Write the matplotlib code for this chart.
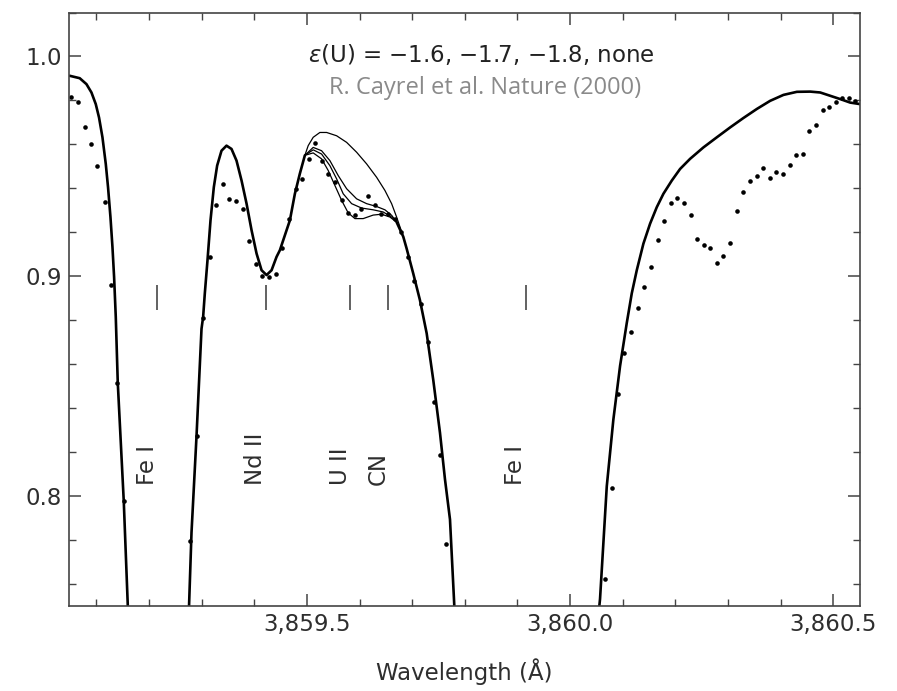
import numpy as np
import matplotlib as mpl
mpl.use('Agg')
import matplotlib.pyplot as plt
from matplotlib.ticker import MultipleLocator, FuncFormatter

# model spectrum (thick line), pieces outside the U II blend
wl_left = [3859.0494, 3859.0684, 3859.0812, 3859.0907, 3859.0989, 3859.1051, 3859.1116,
           3859.1179, 3859.1222, 3859.1268, 3859.1306, 3859.1337, 3859.1369, 3859.1407,
           3859.1521, 3859.1597, 3859.1635]
fl_left = [0.9912, 0.9901, 0.9874, 0.9836, 0.9783, 0.9722, 0.9632,
           0.9511, 0.9405, 0.9269, 0.9133, 0.8997, 0.8815, 0.8515,
           0.7975, 0.7503, 0.7300]

wl_mid = [3859.2747, 3859.2762, 3859.2808, 3859.2903, 3859.2998, 3859.3029, 3859.3061,
          3859.3112, 3859.3169, 3859.3232, 3859.3295, 3859.3378, 3859.3473, 3859.3568,
          3859.3663, 3859.3759, 3859.3854, 3859.3949, 3859.4044, 3859.4139, 3859.4234,
          3859.4329, 3859.4424, 3859.4487, 3859.4614, 3859.4677, 3859.4772, 3859.4867,
          3859.4962]
fl_mid = [0.7300, 0.7505, 0.7833, 0.8271, 0.8760, 0.8815, 0.8922,
          0.9073, 0.9254, 0.9405, 0.9503, 0.9571, 0.9594, 0.9579,
          0.9526, 0.9435, 0.9330, 0.9209, 0.9103, 0.9027, 0.9005,
          0.9027, 0.9088, 0.9118, 0.9209, 0.9254, 0.9375, 0.9467,
          0.9550]

wl_fall = [3859.6705, 3859.6831, 3859.6895, 3859.7021, 3859.7148, 3859.7276, 3859.7401,
           3859.7529, 3859.7624, 3859.7719, 3859.7800, 3859.7830]
fl_fall = [0.9246, 0.9180, 0.9126, 0.9012, 0.8891, 0.8740, 0.8528,
           0.8287, 0.8075, 0.7893, 0.7505, 0.7300]

wl_right = [3860.0513, 3860.0570, 3860.0698, 3860.0823, 3860.0951, 3860.1078, 3860.1173,
            3860.1268, 3860.1394, 3860.1521, 3860.1648, 3860.1774, 3860.1933, 3860.2091,
            3860.2281, 3860.2534, 3860.2789, 3860.3042, 3860.3295, 3860.3549, 3860.3802,
            3860.4055, 3860.4310, 3860.4563, 3860.4753, 3860.4943, 3860.5133, 3860.5323,
            3860.5513]
fl_right = [0.7395, 0.7531, 0.8044, 0.8347, 0.8592, 0.8787, 0.8922,
            0.9027, 0.9148, 0.9239, 0.9314, 0.9375, 0.9435, 0.9488,
            0.9534, 0.9586, 0.9632, 0.9677, 0.9720, 0.9761, 0.9798,
            0.9825, 0.9839, 0.9840, 0.9836, 0.9821, 0.9806, 0.9790,
            0.9783]

# U II blend, four abundances (thin lines)
wl_none = [3859.4962, 3859.5025, 3859.5120, 3859.5247, 3859.5375, 3859.5565, 3859.5755,
           3859.5945, 3859.6135, 3859.6325, 3859.6483, 3859.6610, 3859.6705, 3859.6831]
fl_none = [0.9550, 0.9594, 0.9632, 0.9654, 0.9654, 0.9639, 0.9609,
           0.9564, 0.9511, 0.9450, 0.9390, 0.9330, 0.9269, 0.9180]

wl_u16 = [3859.4962, 3859.5120, 3859.5279, 3859.5405, 3859.5532, 3859.5660, 3859.5785,
          3859.5913, 3859.6070, 3859.6260, 3859.6420, 3859.6578, 3859.6705]
fl_u16 = [0.9550, 0.9561, 0.9534, 0.9481, 0.9413, 0.9345, 0.9288,
          0.9262, 0.9262, 0.9278, 0.9282, 0.9269, 0.9246]
wl_u17 = [3859.4962, 3859.5120, 3859.5279, 3859.5437, 3859.5565, 3859.5690, 3859.5850,
          3859.6040, 3859.6260, 3859.6451, 3859.6610, 3859.6705]
fl_u17 = [0.9550, 0.9575, 0.9556, 0.9503, 0.9443, 0.9375, 0.9330,
          0.9310, 0.9302, 0.9292, 0.9269, 0.9246]
wl_u18 = [3859.4962, 3859.5120, 3859.5279, 3859.5437, 3859.5595, 3859.5755, 3859.5945,
          3859.6135, 3859.6325, 3859.6483, 3859.6610, 3859.6705]
fl_u18 = [0.9550, 0.9586, 0.9571, 0.9526, 0.9458, 0.9398, 0.9352,
          0.9330, 0.9317, 0.9302, 0.9277, 0.9246]

# observed spectrum (dots)
obs_wl = [3859.0513, 3859.0652, 3859.0779, 3859.0894, 3859.1021, 3859.1160, 3859.1287,
          3859.1394, 3859.1521,
          3859.2776, 3859.2903, 3859.3029, 3859.3156, 3859.3270, 3859.3397, 3859.3525,
          3859.3650, 3859.3778, 3859.3903, 3859.4030, 3859.4150, 3859.4278, 3859.4405,
          3859.4530, 3859.4652, 3859.4785, 3859.4905, 3859.5032, 3859.5158, 3859.5279,
          3859.5405, 3859.5532, 3859.5660, 3859.5785, 3859.5907, 3859.6032, 3859.6160,
          3859.6287, 3859.6413, 3859.6540, 3859.6667, 3859.6793, 3859.6920, 3859.7040,
          3859.7162, 3859.7295, 3859.7414, 3859.7534, 3859.7643,
          3860.0665, 3860.0793, 3860.0918, 3860.1032, 3860.1160, 3860.1287, 3860.1413,
          3860.1534, 3860.1667, 3860.1793, 3860.1920, 3860.2040, 3860.2167, 3860.2295,
          3860.2414, 3860.2542, 3860.2667, 3860.2789, 3860.2914, 3860.3042, 3860.3169,
          3860.3293, 3860.3422, 3860.3549, 3860.3669, 3860.3797, 3860.3922, 3860.4049,
          3860.4177, 3860.4297, 3860.4424, 3860.4547, 3860.4669, 3860.4797, 3860.4918,
          3860.5044, 3860.5171, 3860.5298, 3860.5418]
obs_fl = [0.9816, 0.9794, 0.9680, 0.9602, 0.9500, 0.9337, 0.8959,
          0.8513, 0.7976,
          0.7795, 0.8274, 0.8808, 0.9089, 0.9325, 0.9420, 0.9351,
          0.9340, 0.9304, 0.9159, 0.9056, 0.9000, 0.8995, 0.9008,
          0.9130, 0.9260, 0.9396, 0.9443, 0.9532, 0.9605, 0.9523,
          0.9464, 0.9428, 0.9348, 0.9287, 0.9277, 0.9307, 0.9363,
          0.9325, 0.9284, 0.9281, 0.9259, 0.9200, 0.9088, 0.8977,
          0.8873, 0.8702, 0.8425, 0.8188, 0.7779,
          0.7621, 0.8037, 0.8463, 0.8649, 0.8745, 0.8854, 0.8951,
          0.9042, 0.9163, 0.9249, 0.9334, 0.9358, 0.9332, 0.9277,
          0.9171, 0.9141, 0.9126, 0.9062, 0.9091, 0.9151, 0.9298,
          0.9381, 0.9432, 0.9455, 0.9494, 0.9446, 0.9473, 0.9463,
          0.9507, 0.9550, 0.9556, 0.9662, 0.9688, 0.9754, 0.9772,
          0.9792, 0.9809, 0.9809, 0.9795]

# line identifications
line_names = ['Fe I', 'Nd II', 'U II', 'CN', 'Fe I']
line_wl = [3859.215, 3859.422, 3859.582, 3859.654, 3859.916]
label_wl = [3859.198, 3859.403, 3859.563, 3859.635, 3859.897]

plt.rcParams['font.family'] = ['DejaVu Sans']
txt = '#2e2e2e'
spine = '#444444'

fig = plt.figure(figsize=(8.97, 6.91), dpi=100)
ax = fig.add_axes([0.0769, 0.1234, 0.8819, 0.8585])

for w, f in [(wl_left, fl_left), (wl_mid, fl_mid), (wl_fall, fl_fall), (wl_right, fl_right)]:
    ax.plot(w, f, color='black', lw=1.9, solid_capstyle='round', solid_joinstyle='round')
for w, f in [(wl_none, fl_none), (wl_u16, fl_u16), (wl_u17, fl_u17), (wl_u18, fl_u18)]:
    ax.plot(w, f, color='black', lw=0.9, solid_joinstyle='round')

ax.plot(obs_wl, obs_fl, 'o', color='black', markersize=3.3, markeredgewidth=0)

ax.vlines(line_wl, 0.8846, 0.8959, color='#555555', lw=1.3)
for name, x in zip(line_names, label_wl):
    ax.text(x, 0.805, name, rotation=90, ha='center', va='bottom',
            fontsize=16.5, color=txt)

ax.text(0.521, 0.930, '$\\varepsilon$(U) = \u22121.6, \u22121.7, \u22121.8, none',
        transform=ax.transAxes, ha='center', va='center', fontsize=16.5, color='#222222')
ax.text(0.526, 0.8727, 'R. Cayrel et al. Nature (2000)', transform=ax.transAxes,
        ha='center', va='center', fontsize=17, color='#8a8a8a', family=['Open Sans'])

ax.set_xlim(3859.048, 3860.551)
ax.set_ylim(0.75, 1.02)
ax.xaxis.set_major_locator(MultipleLocator(0.5))
ax.xaxis.set_minor_locator(MultipleLocator(0.1))
ax.yaxis.set_major_locator(MultipleLocator(0.1))
ax.yaxis.set_minor_locator(MultipleLocator(0.02))
ax.xaxis.set_major_formatter(FuncFormatter(lambda v, p: '{:,.1f}'.format(v)))
ax.yaxis.set_major_formatter(FuncFormatter(lambda v, p: '{:.1f}'.format(v)))

ax.tick_params(which='both', direction='in', top=True, right=True, color=spine,
               labelsize=16.5, labelcolor=txt)
ax.tick_params(which='major', length=8.5, width=1.1, pad=5)
ax.tick_params(which='minor', length=5, width=1.0)
for s in ax.spines.values():
    s.set_color(spine)
    s.set_linewidth(1.2)

ax.set_xlabel('Wavelength (\u00c5)', fontsize=16.5, color=txt, labelpad=16)

fig.savefig('out.png', dpi=100)
